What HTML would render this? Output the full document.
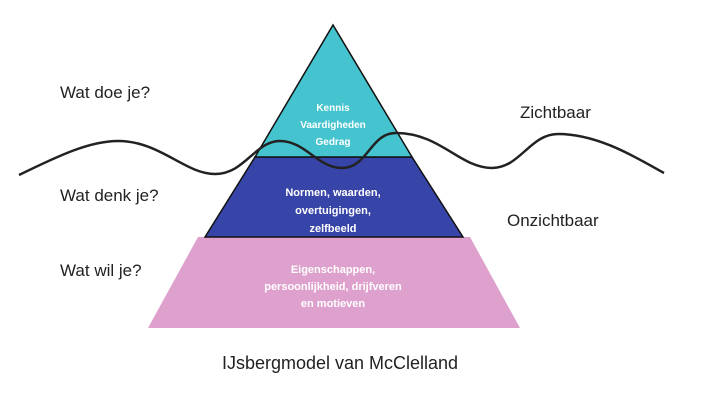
<!DOCTYPE html>
<html><head><style>
html,body{margin:0;padding:0;background:#fff;}
svg{display:block;font-family:"Liberation Sans",sans-serif;}
</style></head><body>
<svg width="701" height="415" viewBox="0 0 701 415" xmlns="http://www.w3.org/2000/svg">
<polygon points="148,328 520,328 470,237 198,237" fill="#dea0cc"/>
<polygon points="205,237 463,237 412,157 255,157" fill="#3845a8" stroke="#111" stroke-width="1.5"/>
<polygon points="255,157 412,157 333,25" fill="#45c4cf" stroke="#111" stroke-width="1.5"/>
<path d="M19,175 C60,155 90,141 118,141 C160,141 185,174 215,174 C245,174 255,141 280,141 C305,141 318,168 342,168 C368,168 370,133 396,133 C440,133 460,168 492,168 C520,168 530,134 558,134 C600,134 640,160 664,173" fill="none" stroke="#222" stroke-width="2.5"/>
<g fill="#fff" font-weight="bold" text-anchor="middle">
<text x="333" y="111" font-size="10">Kennis</text>
<text x="333" y="128" font-size="10">Vaardigheden</text>
<text x="333" y="145" font-size="10">Gedrag</text>
<text x="333" y="196" font-size="11">Normen, waarden,</text>
<text x="333" y="214" font-size="11">overtuigingen,</text>
<text x="333" y="232" font-size="11">zelfbeeld</text>
<text x="333" y="273" font-size="11">Eigenschappen,</text>
<text x="333" y="290" font-size="11">persoonlijkheid, drijfveren</text>
<text x="333" y="307" font-size="11">en motieven</text>
</g>
<g fill="#222" font-size="17">
<text x="60" y="98">Wat doe je?</text>
<text x="60" y="201">Wat denk je?</text>
<text x="60" y="276">Wat wil je?</text>
<text x="520" y="118">Zichtbaar</text>
<text x="507" y="226">Onzichtbaar</text>
<text x="340" y="369" font-size="18" text-anchor="middle">IJsbergmodel van McClelland</text>
</g>
</svg>
</body></html>
